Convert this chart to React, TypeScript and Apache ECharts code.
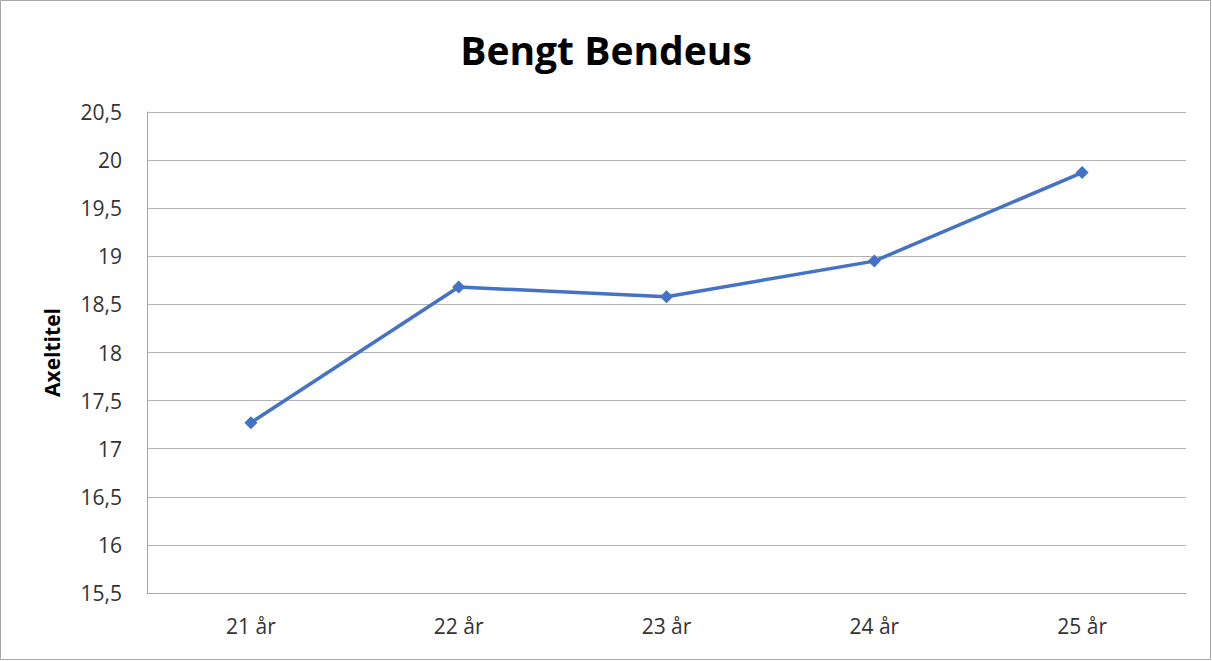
import React, { useEffect, useRef } from "react";
import * as echarts from "echarts";

const titleText = "Bengt Bendeus";
const yAxisTitle = "Axeltitel";
const categories = ["21 år", "22 år", "23 år", "24 år", "25 år"];
const values = [17.27, 18.68, 18.58, 18.95, 19.87];
const yMin = 15.5;
const yMax = 20.5;
const yStep = 0.5;

export default function App() {
  const ref = useRef<HTMLDivElement>(null);
  useEffect(() => {
    if (!ref.current) return;
    const chart = echarts.init(ref.current, null, { renderer: "svg" });
    const font = "'Open Sans', 'Noto Sans', sans-serif";
    chart.setOption({
      animation: false,
      backgroundColor: "#ffffff",
      title: {
        text: titleText,
        left: "center",
        top: 25,
        textStyle: { fontFamily: font, fontSize: 39, fontWeight: "bold", color: "#000000" },
      },
      graphic: [
        {
          type: "rect",
          shape: { x: 0.5, y: 0.5, width: 1210, height: 659 },
          style: { fill: "none", stroke: "#a6a6a6", lineWidth: 1 },
          silent: true,
        },
      ],
      grid: { left: 147, right: 26, top: 112, bottom: 68 },
      xAxis: {
        type: "category",
        data: categories,
        boundaryGap: true,
        axisLine: { lineStyle: { color: "#a6a6a6", width: 1 } },
        axisTick: { show: false },
        axisLabel: { fontFamily: font, fontSize: 21, color: "#333333", margin: 22 },
      },
      yAxis: {
        type: "value",
        min: yMin,
        max: yMax,
        interval: yStep,
        name: yAxisTitle,
        nameLocation: "middle",
        nameGap: 85,
        nameRotate: 90,
        nameTextStyle: { fontFamily: font, fontSize: 21, fontWeight: "bold", color: "#000000" },
        axisLine: { show: true, lineStyle: { color: "#a6a6a6", width: 1 } },
        axisTick: { show: false },
        splitLine: { lineStyle: { color: "#b4b4b4", width: 1 } },
        axisLabel: {
          fontFamily: font,
          fontSize: 21,
          color: "#333333",
          margin: 25,
          formatter: (v: number) => String(v).replace(".", ","),
        },
      },
      series: [
        {
          type: "line",
          data: values,
          symbol: "diamond",
          symbolSize: 13,
          lineStyle: { color: "#4472C4", width: 3.5 },
          itemStyle: { color: "#4472C4" },
        },
      ],
    });
    return () => chart.dispose();
  }, []);
  return (
    <div
      ref={ref}
      style={{ position: "fixed", left: 0, top: 0, width: 1212, height: 661 }}
    />
  );
}
